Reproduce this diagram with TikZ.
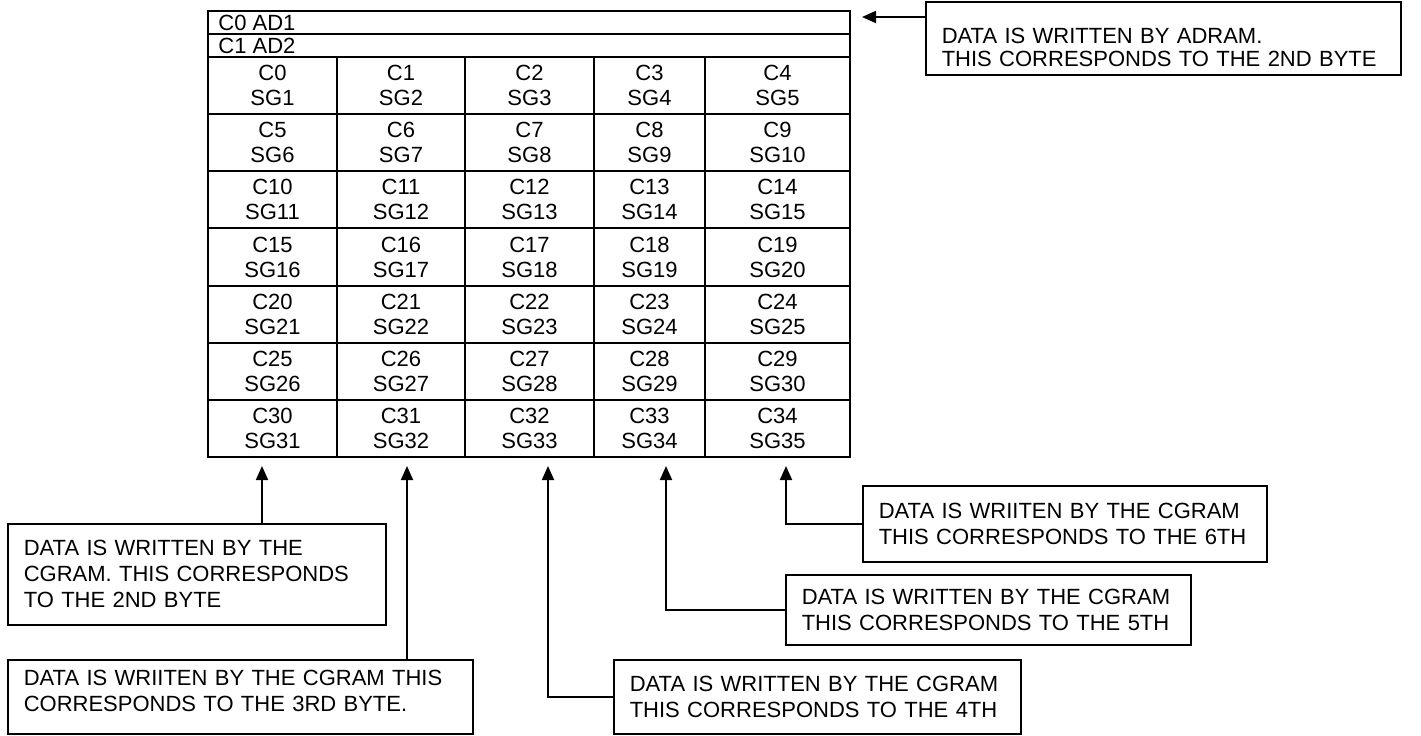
\documentclass[tikz,border=0pt]{standalone}
\usepackage{fontspec}
\setmainfont{Liberation Sans}
\usepackage{tikz}
\usetikzlibrary{arrows.meta}

\begin{document}
\begin{tikzpicture}[x=0.5pt,y=-0.5pt,
    grid/.style={line width=1pt},
    cell/.style={align=center,inner sep=0pt,font=\fontsize{11}{12.5}\selectfont},
    note/.style={draw,line width=0.8pt,anchor=north west,align=left,inner xsep=8pt,inner ysep=0pt,font=\fontsize{11}{13}\selectfont},
    pointer/.style={-{Triangle[length=7pt,width=6pt]},line width=0.9pt}]
        \useasboundingbox (0,0) rectangle (1421,735);
        \draw[grid] (208,11) rectangle (850,457);
        \draw[grid] (208,34) -- (850,34);
        \draw[grid] (208,57) -- (850,57);
        \foreach \r in {1,...,6}
            \draw[grid] (208,{57+57.14*\r}) -- (850,{57+57.14*\r});
        \foreach \c in {337,465,594,705}
            \draw[grid] (\c,57) -- (\c,457);
        \node[cell,anchor=west] (ad1) at (218,22.5) {C0 AD1};
        \node[cell,anchor=west] (ad2) at (218,45.5) {C1 AD2};
        \foreach \r in {0,...,6}{
            \foreach \c/\xc in {0/272.5,1/401,2/529.5,3/649.5,4/777.5}{
                \pgfmathtruncatemacro{\n}{5*\r+\c}
                \pgfmathtruncatemacro{\m}{\n+1}
                \node[cell] (c\n) at (\xc,{85.57+57.14*\r}) {C\n\\SG\m};
            }
        }
        \node[note,text width=221.5pt,font=\fontsize{11}{11.5}\selectfont] (adram) at (925,1)
            {\rule{0pt}{21pt}DATA IS WRITTEN BY ADRAM.\\THIS CORRESPONDS TO THE 2ND BYTE\rule[-4pt]{0pt}{4pt}};
        \node[note,text width=173pt,minimum height=50.5pt] (byte2) at (7,523)
            {DATA IS WRITTEN BY THE\\CGRAM. THIS CORRESPONDS\\TO THE 2ND BYTE};
        \node[note,text width=216.5pt] (byte3) at (7,659)
            {\rule{0pt}{13pt}DATA IS WRIITEN BY THE CGRAM THIS\\CORRESPONDS TO THE 3RD BYTE.\rule[-11pt]{0pt}{11pt}};
        \node[note,text width=187.5pt,minimum height=37pt] (byte4) at (613,659)
            {DATA IS WRITTEN BY THE CGRAM\\THIS CORRESPONDS TO THE 4TH};
        \node[note,text width=186.5pt,minimum height=35pt] (byte5) at (785,574)
            {DATA IS WRITTEN BY THE CGRAM\\THIS CORRESPONDS TO THE 5TH};
        \node[note,text width=186pt,minimum height=38pt] (byte6) at (862,485)
            {DATA IS WRIITEN BY THE CGRAM\\THIS CORRESPONDS TO THE 6TH};
        \coordinate (tipad) at (862,17);
        \coordinate (tip31) at (262,466);
        \coordinate (tip32) at (407,466);
        \coordinate (tip33) at (548,466);
        \coordinate (tip34) at (666,466);
        \coordinate (tip35) at (786,466);
        \draw[pointer] (adram.west |- tipad) -- (tipad);
        \draw[pointer] (tip31 |- byte2.north) -- (tip31);
        \draw[pointer] (tip32 |- byte3.north) -- (tip32);
        \draw[pointer] (byte4.west) -| (tip33);
        \draw[pointer] (byte5.west) -| (tip34);
        \draw[pointer] (byte6.west) -| (tip35);
\end{tikzpicture}
\end{document}
